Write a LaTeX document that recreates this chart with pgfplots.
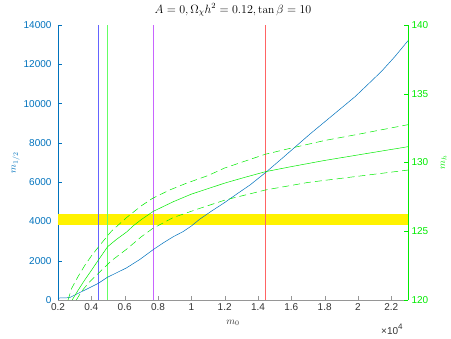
\documentclass[border=0pt]{standalone}
\usepackage{fontspec}
\setsansfont{Liberation Sans}
\usepackage{pgfplots}
\pgfplotsset{compat=1.18}

\definecolor{mblue}{RGB}{0,114,189}
\definecolor{mgreen}{RGB}{0,235,0}
\definecolor{vblue}{RGB}{100,100,255}
\definecolor{vgreen}{RGB}{100,255,100}
\definecolor{vpurple}{RGB}{200,100,255}
\definecolor{vred}{RGB}{255,100,100}
\definecolor{agray}{RGB}{150,150,150}

\pgfplotsset{
  base/.style={
    width=350pt, height=275pt, scale only axis,
    xmin=0.2, xmax=2.3,
    tick align=inside,
    major tick length=4pt,
    scaled x ticks=false, scaled y ticks=false,
    /pgf/number format/assume math mode=true,
    /pgf/number format/1000 sep={},
    ticklabel style={font=\sffamily\fontsize{10}{12}\selectfont},
    axis line style={-},
  },
}

\begin{document}
\begin{tikzpicture}
\begin{axis}[name=ax, base,
    ymin=0, ymax=14000,
    axis x line*=bottom, axis y line*=left,
    xtick={0.2,0.4,...,2.21},
    ytick={0,2000,...,14000},
    x axis line style={agray, line width=0.8pt},
    x tick style={agray},
    xticklabel style={black!80},
    y axis line style={mblue},
    y tick style={mblue},
    yticklabel style={mblue, xshift=-3pt},
    xlabel={$m_0$},
    xlabel style={at={(axis description cs:0.5,0)}, anchor=base, yshift=-24pt, black!80},
    ylabel={$m_{1/2}$},
    ylabel style={mblue, at={(axis description cs:0,0.5)}, anchor=base, yshift=42pt},
    title={$A=0, \Omega_\chi h^2=0.12, \tan\beta=10$},
    title style={at={(axis description cs:0.5,1)}, anchor=base, yshift=6pt, font=\fontsize{11.5}{13}\selectfont},
  ]
% Higgs mass band (125.45--126.25 on the right axis)
\addplot[fill=yellow, draw=none] coordinates {(0.2,3815) (2.3,3815) (2.3,4375) (0.2,4375)} -- cycle;
% vertical lines
\addplot[vblue, line width=0.6pt] coordinates {(0.44,0) (0.44,14000)};
\addplot[vgreen, line width=0.6pt] coordinates {(0.494,0) (0.494,14000)};
\addplot[vpurple, line width=0.6pt] coordinates {(0.77,0) (0.77,14000)};
\addplot[vred, line width=0.6pt] coordinates {(1.443,0) (1.443,14000)};
% m_1/2 along the relic density line
\addplot[mblue, line width=0.5pt] coordinates {
  (0.2,100) (0.25,110) (0.272,130) (0.30,250) (0.35,460) (0.40,670) (0.442,850)
  (0.496,1155) (0.55,1380) (0.612,1640) (0.692,2070) (0.768,2545) (0.83,2900)
  (0.892,3224) (0.95,3480) (1.0,3767) (1.052,4124) (1.12,4520) (1.202,4974)
  (1.27,5380) (1.352,5855) (1.444,6480) (1.55,7250) (1.712,8450) (1.85,9420)
  (1.982,10350) (2.06,10980) (2.142,11650) (2.22,12380) (2.3,13200)
};
\end{axis}
\begin{axis}[base,
    ymin=120, ymax=140,
    axis x line=none, axis y line*=right,
    ytick={120,125,...,140},
    y axis line style={mgreen},
    y tick style={mgreen},
    yticklabel style={mgreen},
    ylabel={$m_h$},
    ylabel style={mgreen, at={(axis description cs:1,0.5)}, anchor=base, yshift=-37pt},
  ]
\addplot[mgreen, line width=0.5pt] coordinates {
  (0.285,120) (0.32,120.7) (0.36,121.45) (0.40,122.15) (0.442,122.9) (0.498,123.88)
  (0.55,124.4) (0.612,124.95) (0.652,125.4) (0.70,125.85) (0.772,126.45)
  (0.892,127.15) (1.0,127.7) (1.1,128.1) (1.2,128.5) (1.3,128.85) (1.444,129.33)
  (1.6,129.7) (1.8,130.15) (2.0,130.55) (2.3,131.15)
};
\addplot[mgreen, line width=0.5pt, dash pattern=on 7pt off 4pt] coordinates {
  (0.26,120) (0.282,120.85) (0.32,121.7) (0.36,122.5) (0.40,123.2) (0.452,124.0)
  (0.52,125.0) (0.612,126.0) (0.70,126.85) (0.768,127.4) (0.87,128.0) (0.972,128.5)
  (1.1,129.05) (1.2,129.6) (1.444,130.6) (1.6,131.05) (1.8,131.6) (2.0,132.05) (2.3,132.75)
};
\addplot[mgreen, line width=0.5pt, dash pattern=on 7pt off 4pt] coordinates {
  (0.31,120) (0.34,120.6) (0.38,121.2) (0.452,122.06) (0.52,122.85) (0.612,123.7)
  (0.70,124.6) (0.768,125.2) (0.892,126.0) (1.052,126.67) (1.202,127.27)
  (1.444,128.0) (1.7,128.55) (2.0,129.0) (2.3,129.45)
};
\end{axis}
\node[anchor=base west, black!80, font=\sffamily\fontsize{10}{12}\selectfont, inner sep=0pt]
  at ([shift={(-27pt,-34pt)}]ax.south east) {×10\raisebox{5pt}{\fontsize{8}{9}\selectfont 4}};
\pgfresetboundingbox
\path[use as bounding box] ([shift={(-58pt,-38pt)}]ax.south west) rectangle ([shift={(43pt,25pt)}]ax.north east);
\end{tikzpicture}
\end{document}
